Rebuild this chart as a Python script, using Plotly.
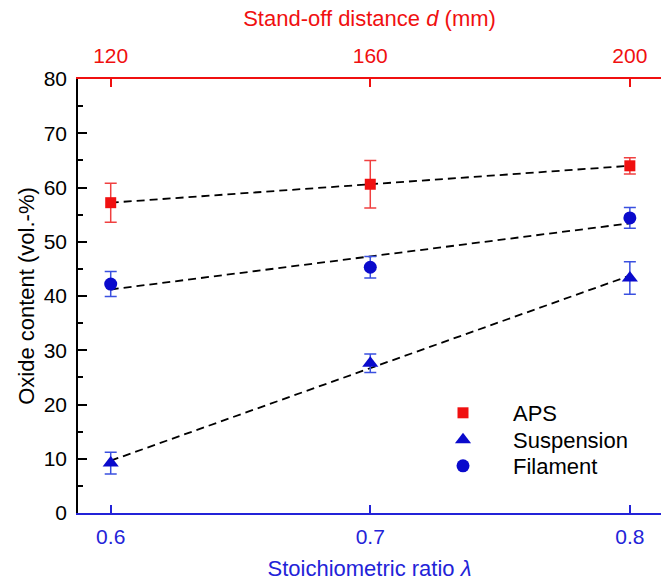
import numpy as np
import plotly.graph_objects as go

ratio = [0.6, 0.7, 0.8]
distance_ticks = [120, 160, 200]

aps = [57.2, 60.6, 64.0]
aps_err = [3.6, 4.4, 1.5]
susp = [9.2, 27.6, 43.3]
susp_err = [2.0, 1.7, 3.0]
fil = [42.2, 45.3, 54.4]
fil_err = [2.3, 2.0, 1.9]

RED = "#f01010"
RED_ERR = "#f04040"
BLUE = "#0a0acc"
BLUE_ERR = "#3a50e0"
AXBLUE = "#2323d8"
FONT = "Liberation Sans, Arial, sans-serif"
TICK = 21
TITLE = 22

fig = go.Figure()

# fitted dashed lines
for ys in (aps, susp, fil):
    k, b = np.polyfit(ratio, ys, 1)
    xs = np.array([ratio[0], ratio[-1]])
    fig.add_trace(go.Scatter(x=xs, y=k * xs + b, mode="lines",
                             line=dict(color="black", width=1.8, dash="8px,5px"),
                             showlegend=False, hoverinfo="skip"))

fig.add_trace(go.Scatter(x=ratio, y=aps, mode="markers", name="APS", legend="legend",
                         marker=dict(symbol="square", size=11, color=RED),
                         error_y=dict(type="data", array=aps_err, color=RED_ERR,
                                      thickness=1.5, width=6)))
fig.add_trace(go.Scatter(x=ratio, y=susp, mode="markers", name="Suspension",
                         legend="legend2",
                         marker=dict(symbol="triangle-up", size=14, color=BLUE),
                         error_y=dict(type="data", array=susp_err, color=BLUE_ERR,
                                      thickness=1.5, width=6)))
fig.add_trace(go.Scatter(x=ratio, y=fil, mode="markers", name="Filament",
                         legend="legend3",
                         marker=dict(symbol="circle", size=13, color=BLUE),
                         error_y=dict(type="data", array=fil_err, color=BLUE_ERR,
                                      thickness=1.5, width=6)))

x_lo, x_hi = 0.5874, 0.812
def to_d(v):
    return 120 + (v - 0.6) * 400

# invisible trace on top axis
fig.add_trace(go.Scatter(x=distance_ticks, y=[None] * 3, xaxis="x2", mode="markers",
                         showlegend=False, hoverinfo="skip"))

L, T, B = 78, 79, 68
PW = 661 - L
PH = 581 - T - B
leg_x = (413 - L) / PW
def leg(yimg):
    return dict(x=leg_x, y=(581 - B - yimg) / PH, xanchor="left", yanchor="middle",
                bgcolor="rgba(0,0,0,0)", font=dict(size=TITLE), itemwidth=90)

fig.update_layout(
    width=661, height=581,
    margin=dict(l=L, r=0, t=T, b=B),
    paper_bgcolor="white", plot_bgcolor="white",
    font=dict(family=FONT, size=TICK, color="black"),
    xaxis=dict(range=[x_lo, x_hi], tickvals=ratio, ticktext=["0.6", "0.7", "0.8"],
               automargin=False,
               showgrid=False, zeroline=False, showline=True, linecolor=AXBLUE,
               linewidth=1.5, ticks="inside", ticklen=8, tickwidth=1.5,
               tickcolor=AXBLUE, tickfont=dict(color=AXBLUE, size=TICK),
               ticklabelstandoff=4,
               title=dict(text="Stoichiometric ratio <i>λ</i>",
                          font=dict(color=AXBLUE, size=TITLE), standoff=14)),
    xaxis2=dict(overlaying="x", side="top", anchor="y", automargin=False,
                range=[to_d(x_lo), to_d(x_hi)], tickvals=distance_ticks,
                showgrid=False, zeroline=False, showline=True, linecolor=RED,
                linewidth=1.5, ticks="inside", ticklen=8, tickwidth=1.5,
                tickcolor=RED, tickfont=dict(color=RED, size=TICK),
                ticklabelstandoff=6,
                title=dict(text="Stand-off distance <i>d</i> (mm)",
                           font=dict(color=RED, size=TITLE), standoff=11)),
    yaxis=dict(range=[0, 80], tickvals=list(range(0, 81, 10)), automargin=False,
               showgrid=False, zeroline=False, showline=True, linecolor="black",
               linewidth=1.5, ticks="inside", ticklen=9, tickwidth=1.5,
               tickcolor="black", ticklabelstandoff=5,
               minor=dict(tickvals=list(range(5, 80, 10)), ticks="inside",
                         ticklen=5, tickwidth=1.5, tickcolor="black"),
               title=dict(text="Oxide content (vol.-%)", font=dict(size=TITLE),
                          standoff=3)),
    legend=leg(413),
    legend2=leg(440),
    legend3=leg(466),
)

fig.write_html("out.html", config={"displayModeBar": False},
               post_script="document.body.style.margin='0';document.body.style.padding='0';")
